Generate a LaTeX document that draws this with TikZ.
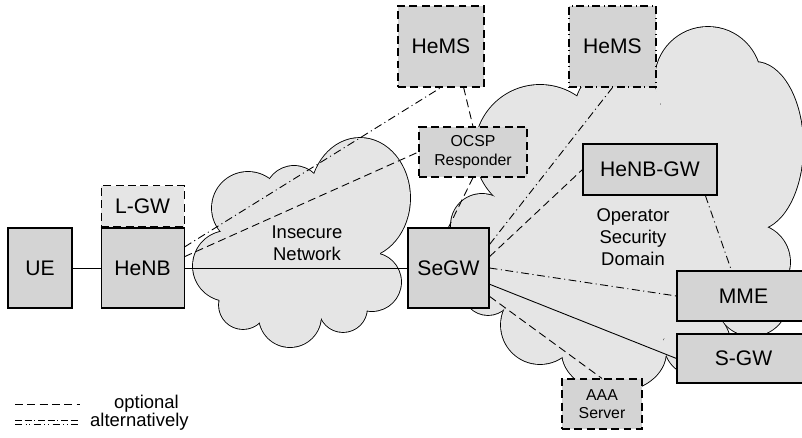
\documentclass[tikz,border=0pt]{standalone}
\usepackage{fontspec}
\setmainfont{Liberation Sans}
\usetikzlibrary{calc,positioning}
\definecolor{felho}{gray}{0.9}
\definecolor{doboz}{gray}{0.83}
\tikzset{
  dob/.style={draw,fill=doboz,line width=0.6pt,inner sep=0pt,align=center,font=\fontsize{12}{14}\selectfont},
  kicsi/.style={font=\fontsize{9}{10.5}\selectfont},
  meret/.style 2 args={minimum width=#1*0.2mm,minimum height=#2*0.2mm},
  szagg/.style={dash pattern=on 4.5pt off 2.5pt},
  pv/.style={dash pattern=on 4.5pt off 2pt on 0.6pt off 2pt},
  vonal/.style={line width=0.5pt},
  felirat/.style={align=center,font=\fontsize{10.5}{12.5}\selectfont},
}
% felho: ellipszisek listaja (x/y/rx/ry), majd kitolto alakzat
\newcommand\felhorajz[2]{%
  \foreach \cx/\cy/\rx/\ry in {#1}
    \draw[line width=1pt] (\cx,-\cy) ellipse[x radius=\rx,y radius=\ry];
  \foreach \cx/\cy/\rx/\ry in {#1}
    \fill[felho] (\cx,-\cy) ellipse[x radius=\rx,y radius=\ry];
  \fill[felho] #2;
}

\begin{document}
\begin{tikzpicture}[x=0.2mm,y=0.2mm]
  \useasboundingbox (0,0) rectangle (802,-438);
  % felhok
  \felhorajz{248/208/36/36, 294/195/29/29, 360/198/50/60, 372/282/29/29,
    343/308/24/24, 290/316/31/31, 243/305/24/24, 228/266/35/35}
    {(300,-250) ellipse[x radius=80,y radius=60]}
  \felhorajz{540/150/65/65, 618/110/43/43, 708/80/53/53, 755/146/48/84,
    752/262/38/38, 752/300/36/36, 697/343/33/33, 614/352/52/40,
    540/325/39/39, 488/290/25/25, 482/225/31/31}
    {(460,-260) -- (505,-200) -- (582,-108) -- (657,-106) -- (760,-75) -- (790,-146)
     -- (752,-228) -- (775,-300) -- (660,-340) -- (562,-350) -- (505,-305) -- cycle}
  \node[felirat] (INS) at (307,-243) {Insecure\\Network};
  \node[felirat] (OSD) at (633,-237) {Operator\\Security\\Domain};

  % dobozok
  \node[dob,meret={64}{80}] (UE) at (40,-268) {UE};
  \node[dob,meret={83}{80},right=5.6mm of UE] (HeNB) {HeNB};
  \node[dob,szagg,fill=felho,meret={83}{41},above=0pt of HeNB] (LGW) {L-GW};
  \draw[line width=0.6pt] (HeNB.north west) -- (HeNB.north east);
  \node[dob,meret={81}{80}] (SeGW) at (448.5,-268) {SeGW};
  \node[dob,szagg,meret={86}{81}] (HeMSa) at (441,-46.5) {HeMS};
  \node[dob,pv,meret={87}{81}] (HeMSb) at (612.5,-46.5) {HeMS};
  \node[dob,szagg,kicsi,meret={108}{50}] (OCSP) at (473,-152) {OCSP\\Responder};
  \node[dob,meret={134}{51}] (GW) at (650,-169.5) {HeNB-GW};
  \node[dob,meret={133}{50}] (MME) at (743.5,-296) {MME};
  \node[dob,meret={133}{49}] (SGW) at (743.5,-358.5) {S-GW};
  \node[dob,szagg,kicsi,meret={80}{50}] (AAA) at (602,-404) {AAA\\Server};

  % kapcsolatok
  \draw[vonal] (UE) -- (HeNB);
  \draw[vonal] (HeNB) -- (SeGW);
  \draw[vonal,pv] ($(HeNB.north east)!0.24!(HeNB.south east)$) -- (HeMSa.south);
  \draw[vonal,szagg] ($(HeNB.north east)!0.36!(HeNB.south east)$) -- (OCSP.west);
  \draw[vonal,szagg] ($(HeMSa.south west)!0.76!(HeMSa.south east)$) -- (OCSP.north);
  \draw[vonal,szagg] (OCSP.south) -- (SeGW.north);
  \draw[vonal,pv] ($(SeGW.north east)!0.21!(SeGW.south east)$) -- (HeMSb.south);
  \draw[vonal,szagg] ($(SeGW.north east)!0.36!(SeGW.south east)$) -- (GW.west);
  \draw[vonal,pv] ($(GW.south west)!0.91!(GW.south east)$) -- ($(MME.north west)!0.41!(MME.north east)$);
  \draw[vonal,pv] (SeGW.east) -- (MME.west);
  \draw[vonal] ($(SeGW.north east)!0.7!(SeGW.south east)$) -- (SGW.west);
  \draw[vonal,szagg] ($(SeGW.north east)!0.85!(SeGW.south east)$) -- (AAA.north);

  % jelmagyarazat
  \coordinate (Ja) at (15,-404); \coordinate (Jb) at (80,-404);
  \coordinate (Ka) at (15,-420); \coordinate (Kb) at (80,-420);
  \coordinate (Kc) at (15,-424); \coordinate (Kd) at (80,-424);
  \draw[vonal,szagg] (Ja) -- (Jb);
  \draw[vonal,dash pattern=on 4pt off 1.5pt on 4pt off 1.5pt on 0.6pt off 1.5pt] (Ka) -- (Kb);
  \draw[vonal,dash pattern=on 4pt off 2pt on 0.6pt off 1.5pt on 0.6pt off 2pt] (Kc) -- (Kd);
  \node[felirat,anchor=west] (OPT) at (108,-404) {optional};
  \node[felirat,anchor=west] (ALT) at (84,-422) {alternatively};
\end{tikzpicture}
\end{document}
